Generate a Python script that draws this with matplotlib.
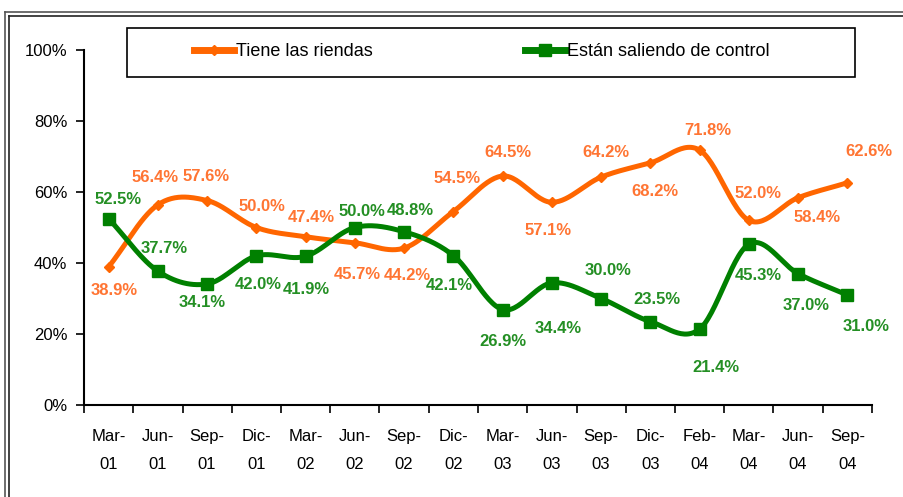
import numpy as np
import matplotlib
matplotlib.use('Agg')
import matplotlib.pyplot as plt
import matplotlib.font_manager as fm
from matplotlib.lines import Line2D

# fuente estrecha para ejes y leyenda si existe
names = {f.name for f in fm.fontManager.ttflist}
narrow = 'Liberation Sans Narrow' if 'Liberation Sans Narrow' in names else 'Liberation Sans'
plt.rcParams['font.family'] = ['Liberation Sans', 'DejaVu Sans']

# datos
periodos = ['Mar-\n01', 'Jun-\n01', 'Sep-\n01', 'Dic-\n01', 'Mar-\n02', 'Jun-\n02', 'Sep-\n02', 'Dic-\n02',
            'Mar-\n03', 'Jun-\n03', 'Sep-\n03', 'Dic-\n03', 'Feb-\n04', 'Mar-\n04', 'Jun-\n04', 'Sep-\n04']
riendas = [38.9, 56.4, 57.6, 50.0, 47.4, 45.7, 44.2, 54.5, 64.5, 57.1, 64.2, 68.2, 71.8, 52.0, 58.4, 62.6]
control = [52.5, 37.7, 34.1, 42.0, 41.9, 50.0, 48.8, 42.1, 26.9, 34.4, 30.0, 23.5, 21.4, 45.3, 37.0, 31.0]

# desplazamiento de etiquetas (pixeles)
off_r = [(6, -24), (-3, 27), (-1, 24), (6, 21), (6, 19), (2, -32), (3, -27), (4, 33),
         (5, 24), (-4, -28), (5, 25), (5, -29), (8, 20), (9, 27), (19, -20), (22, 31)]
off_c = [(9, 19), (6, 23), (-5, -19), (2, -29), (1, -33), (7, 16), (6, 21), (-4, -30),
         (0, -32), (6, -46), (7, 28), (7, 22), (16, -38), (9, -31), (8, -32), (19, -32)]

NARANJA = '#FF6600'
VERDE = '#008000'
NARANJA_TXT = '#FF7533'
VERDE_TXT = '#248F24'


def suavizar(x, y, n=30):
    # curva tipo Catmull-Rom (como el suavizado de Excel), solo para el trazo
    x = np.asarray(x, float)
    y = np.asarray(y, float)
    px = np.concatenate([[2 * x[0] - x[1]], x, [2 * x[-1] - x[-2]]])
    py = np.concatenate([[2 * y[0] - y[1]], y, [2 * y[-1] - y[-2]]])
    xs, ys = [], []
    t = np.linspace(0, 1, n)
    for i in range(1, len(px) - 2):
        for p, out in ((px, xs), (py, ys)):
            p0, p1, p2, p3 = p[i - 1], p[i], p[i + 1], p[i + 2]
            out.extend(0.5 * ((2 * p1) + (-p0 + p2) * t + (2 * p0 - 5 * p1 + 4 * p2 - p3) * t ** 2
                              + (-p0 + 3 * p1 - 3 * p2 + p3) * t ** 3))
    return np.array(xs), np.array(ys)


fig = plt.figure(figsize=(9.04, 4.97), dpi=100)
ax = fig.add_axes([84 / 904, 1 - 405 / 497, (872 - 84) / 904, 355 / 497])

x = np.arange(len(periodos))
sx, sy = suavizar(x, riendas)
ax.plot(sx, sy, color=NARANJA, lw=3.6, solid_capstyle='round', zorder=3)
ax.plot(x, riendas, ls='none', marker='D', ms=5, color=NARANJA, zorder=4)
sx, sy = suavizar(x, control)
ax.plot(sx, sy, color=VERDE, lw=3.6, solid_capstyle='round', zorder=3)
ax.plot(x, control, ls='none', marker='s', ms=8.5, color=VERDE, zorder=4)

px2pt = 72 / fig.dpi
for serie, offs, col in ((riendas, off_r, NARANJA_TXT), (control, off_c, VERDE_TXT)):
    for i, v in enumerate(serie):
        dx, dy = offs[i]
        ax.annotate(f'{v:.1f}%', (x[i], v), xytext=(dx * px2pt, dy * px2pt), textcoords='offset points',
                    ha='center', va='center', fontsize=12, fontweight='bold', color=col, zorder=5)

ax.set_xlim(-0.5, len(periodos) - 0.5)
ax.set_ylim(0, 100)
ax.set_yticks(np.arange(0, 101, 20))
ax.set_yticklabels([f'{v}%' for v in range(0, 101, 20)], fontfamily=narrow, fontsize=12)
ax.set_xticks(np.arange(-0.5, len(periodos), 1))
ax.set_xticklabels([])
ax.set_xticks(x, minor=True)
ax.set_xticklabels(periodos, minor=True, fontfamily=narrow, fontsize=12, linespacing=2.1)
ax.tick_params(axis='x', which='major', direction='out', length=6, width=1.2)
ax.tick_params(axis='x', which='minor', length=0, pad=17)
ax.tick_params(axis='y', direction='out', length=6, width=1.2, pad=6)
for s in ('top', 'right'):
    ax.spines[s].set_visible(False)
for s in ('left', 'bottom'):
    ax.spines[s].set_linewidth(1.5)

# leyenda
box = plt.Rectangle((127 / 904, 1 - 77 / 497), 728 / 904, 49 / 497, transform=fig.transFigure,
                    fill=True, facecolor='white', edgecolor='black', lw=1.2, zorder=10)
fig.patches.append(box)
h1 = Line2D([], [], color=NARANJA, lw=5, marker='D', ms=5)
h2 = Line2D([], [], color=VERDE, lw=5, marker='s', ms=8)
leg = fig.legend([h1, h2], ['Tiene las riendas', 'Están saliendo de control'], ncol=2,
                 loc='center', bbox_to_anchor=(482 / 904, 1 - 52 / 497), frameon=False,
                 prop={'family': narrow, 'size': 13}, handlelength=2.2, handletextpad=0.15,
                 columnspacing=8.4, markerscale=1.0)
leg.set_zorder(11)

# marco doble exterior
for off, col in ((5, '#555555'), (9, '#222222')):
    fig.add_artist(Line2D([off / 904, off / 904], [0, 1 - off / 497 - 7 / 497], transform=fig.transFigure,
                          color=col, lw=1.2))
    fig.add_artist(Line2D([off / 904, 1], [1 - (off + 7) / 497, 1 - (off + 7) / 497], transform=fig.transFigure,
                          color=col, lw=1.2))

fig.savefig('out.png', dpi=100, facecolor='white')
